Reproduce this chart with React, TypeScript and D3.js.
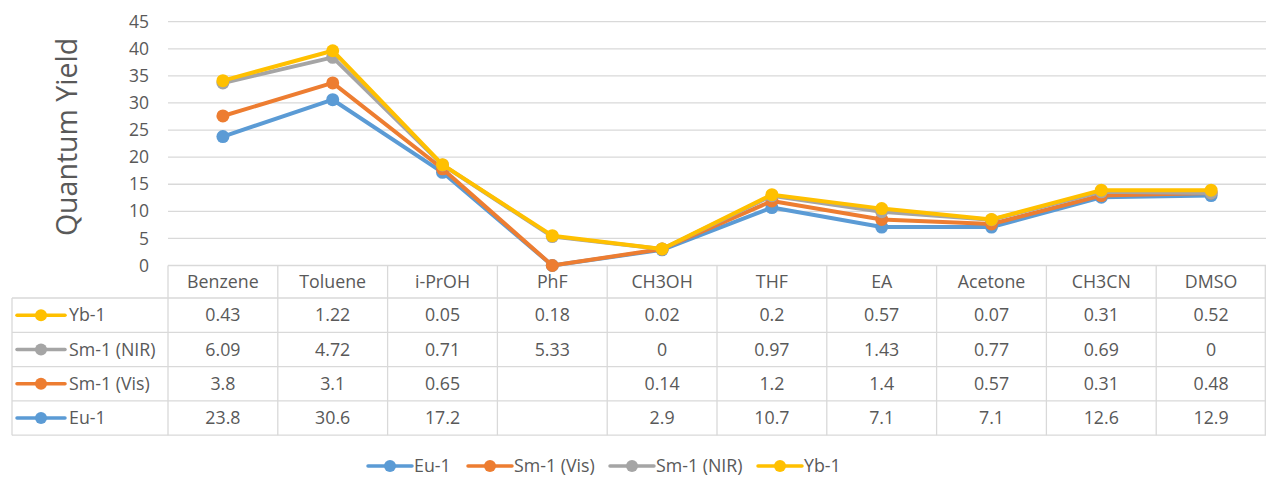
import React from "react";
import * as d3 from "d3";

const categories = ["Benzene", "Toluene", "i-PrOH", "PhF", "CH3OH", "THF", "EA", "Acetone", "CH3CN", "DMSO"];
const seriesNames = ["Eu-1", "Sm-1 (Vis)", "Sm-1 (NIR)", "Yb-1"];
const euValues: (number | null)[] = [23.8, 30.6, 17.2, null, 2.9, 10.7, 7.1, 7.1, 12.6, 12.9];
const smVisValues: (number | null)[] = [3.8, 3.1, 0.65, null, 0.14, 1.2, 1.4, 0.57, 0.31, 0.48];
const smNirValues: (number | null)[] = [6.09, 4.72, 0.71, 5.33, 0, 0.97, 1.43, 0.77, 0.69, 0];
const ybValues: (number | null)[] = [0.43, 1.22, 0.05, 0.18, 0.02, 0.2, 0.57, 0.07, 0.31, 0.52];
const yTicks = [0, 5, 10, 15, 20, 25, 30, 35, 40, 45];
const colors = ["#5B9BD5", "#ED7D31", "#A5A5A5", "#FFC000"];

const allValues = [euValues, smVisValues, smNirValues, ybValues];

export default function App() {
  const W = 1266, H = 477;
  const left = 168, right = 1266, top = 21.7, bottom = 265.5;
  const font = "'Open Sans', sans-serif";
  const text = "#595959";
  const grid = "#D9D9D9";
  const fs = 17.8;

  const x = d3.scaleBand<string>().domain(categories).range([left, right]);
  const y = d3.scaleLinear().domain([0, 45]).range([bottom, top]);

  // stacked cumulative values
  const stacked: number[][] = [];
  allValues.forEach((vals, i) => {
    stacked.push(vals.map((v, j) => (v ?? 0) + (i > 0 ? stacked[i - 1][j] : 0)));
  });

  const line = d3
    .line<number>()
    .x((_, j) => (x(categories[j]) as number) + x.bandwidth() / 2)
    .y((d) => y(d));

  const headerBottom = 298;
  const rowH = 34.3;
  const tableLeft = 12;
  const rowOrder = [3, 2, 1, 0];

  const legendItems = [
    { i: 0, x: 368 },
    { i: 1, x: 468 },
    { i: 2, x: 610 },
    { i: 3, x: 758 },
  ];

  return (
    <svg width={W} height={H} style={{ position: "absolute", left: 0, top: 0, background: "#fff" }} fontFamily={font}>
      {/* y title */}
      <text
        transform={`translate(77,137) rotate(-90)`}
        textAnchor="middle"
        fontSize={28.5}
        fill={text}
      >
        Quantum Yield
      </text>
      {/* gridlines */}
      {yTicks.map((t) => (
        <g key={t}>
          {t > 0 && <line x1={left} x2={right} y1={y(t)} y2={y(t)} stroke={grid} strokeWidth={1.3} />}
          <text x={149} y={y(t)} dy="0.35em" textAnchor="end" fontSize={17.5} fill={text}>
            {t}
          </text>
        </g>
      ))}
      {/* table */}
      <g stroke={grid} strokeWidth={1.3}>
        <line x1={left} x2={right} y1={bottom} y2={bottom} />
        {[0, 1, 2, 3, 4].map((r) => (
          <line key={r} x1={tableLeft} x2={right} y1={headerBottom + r * rowH} y2={headerBottom + r * rowH} />
        ))}
        <line x1={tableLeft} x2={tableLeft} y1={headerBottom} y2={headerBottom + 4 * rowH} />
        {categories.map((c) => (
          <line key={c} x1={x(c) as number} x2={x(c) as number} y1={bottom} y2={headerBottom + 4 * rowH} />
        ))}
        <line x1={right - 0.7} x2={right - 0.7} y1={bottom} y2={headerBottom + 4 * rowH} />
      </g>
      {categories.map((c) => (
        <text
          key={c}
          x={(x(c) as number) + x.bandwidth() / 2}
          y={(bottom + headerBottom) / 2}
          dy="0.35em"
          textAnchor="middle"
          fontSize={fs}
          fill={text}
        >
          {c}
        </text>
      ))}
      {rowOrder.map((si, r) => {
        const cy = headerBottom + r * rowH + rowH / 2;
        return (
          <g key={si}>
            <line x1={17} x2={65} y1={cy} y2={cy} stroke={colors[si]} strokeWidth={3.5} strokeLinecap="round" />
            <circle cx={41} cy={cy} r={6} fill={colors[si]} />
            <text x={69} y={cy} dy="0.35em" fontSize={fs} fill={text}>
              {seriesNames[si]}
            </text>
            {allValues[si].map((v, j) => (
              <text
                key={j}
                x={(x(categories[j]) as number) + x.bandwidth() / 2}
                y={cy}
                dy="0.35em"
                textAnchor="middle"
                fontSize={fs}
                fill={text}
              >
                {v === null ? "" : String(v)}
              </text>
            ))}
          </g>
        );
      })}
      {/* lines */}
      {stacked.map((vals, i) => (
        <g key={i}>
          <path d={line(vals) as string} fill="none" stroke={colors[i]} strokeWidth={4} strokeLinejoin="round" />
          {vals.map((v, j) => (
            <circle
              key={j}
              cx={(x(categories[j]) as number) + x.bandwidth() / 2}
              cy={y(v)}
              r={6.5}
              fill={colors[i]}
            />
          ))}
        </g>
      ))}
      {/* legend */}
      {legendItems.map(({ i, x: lx }) => (
        <g key={i}>
          <line x1={lx} x2={lx + 44} y1={466} y2={466} stroke={colors[i]} strokeWidth={3.5} strokeLinecap="round" />
          <circle cx={lx + 22} cy={466} r={6} fill={colors[i]} />
          <text x={lx + 46} y={466} dy="0.35em" fontSize={fs} fill={text}>
            {seriesNames[i]}
          </text>
        </g>
      ))}
    </svg>
  );
}
